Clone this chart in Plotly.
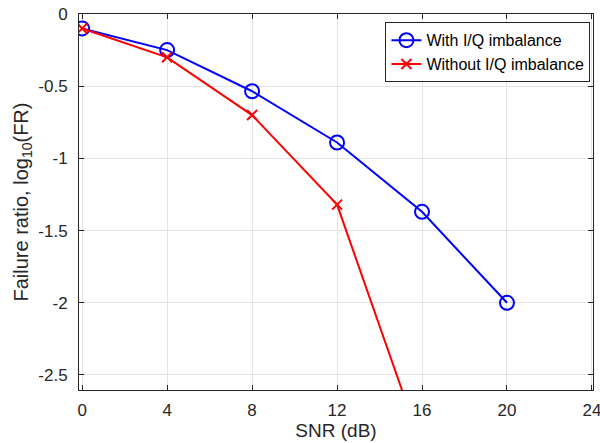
import plotly.graph_objects as go

snr_with = [0, 4, 8, 12, 16, 20]
fr_with = [-0.1, -0.25, -0.535, -0.89, -1.37, -2.0]
snr_without = [0, 4, 8, 12, 16]
fr_without = [-0.1, -0.30, -0.70, -1.32, -3.0]
x_ticks = [0, 4, 8, 12, 16, 20, 24]
y_ticks = [0, -0.5, -1, -1.5, -2, -2.5]
y_tick_labels = ["0", "-0.5", "-1", "-1.5", "-2", "-2.5"]

fig = go.Figure()
fig.add_trace(go.Scatter(
    x=snr_with, y=fr_with, mode="lines+markers", name="With I/Q imbalance",
    line=dict(color="#0000ff", width=2),
    marker=dict(symbol="circle-open", size=14, color="#0000ff", line=dict(width=2)),
))
fig.add_trace(go.Scatter(
    x=snr_without, y=fr_without, mode="lines+markers", name="Without I/Q imbalance",
    line=dict(color="#ff0000", width=2),
    marker=dict(symbol="x-thin-open", size=10, color="#ff0000", line=dict(width=2, color="#ff0000")),
))

axis_common = dict(
    showline=True, linecolor="#262626", linewidth=1, mirror="ticks",
    ticks="inside", ticklen=5, tickcolor="#262626",
    showgrid=True, gridcolor="#e3e3e3", gridwidth=1, zeroline=False,
    tickfont=dict(size=17, color="#262626"), automargin=False,
    ticklabeloverflow="allow",
)
fig.update_xaxes(
    range=[-0.15, 24.05], tickvals=x_ticks, ticklabelstandoff=5,
    title=dict(text="SNR (dB)", font=dict(size=19, color="#262626"), standoff=3),
    **axis_common,
)
fig.update_yaxes(
    range=[-2.604, 0], tickvals=y_ticks, ticktext=y_tick_labels, ticklabelstandoff=7,
    title=dict(text="Failure ratio, log<sub>10</sub>(FR)", font=dict(size=20, color="#262626"), standoff=4),
    **axis_common,
)
fig.update_layout(
    width=600, height=443,
    margin=dict(l=79, r=7, t=14, b=53),
    paper_bgcolor="white", plot_bgcolor="white",
    font=dict(family="Liberation Sans, Arial, Helvetica, sans-serif", color="#262626"),
    legend=dict(
        x=0.995, y=0.978, xanchor="right", yanchor="top",
        bgcolor="white", bordercolor="#262626", borderwidth=1,
        font=dict(size=16, color="black"), tracegroupgap=0,
        itemwidth=30,
    ),
    showlegend=True,
)
fig.write_html("out.html")
